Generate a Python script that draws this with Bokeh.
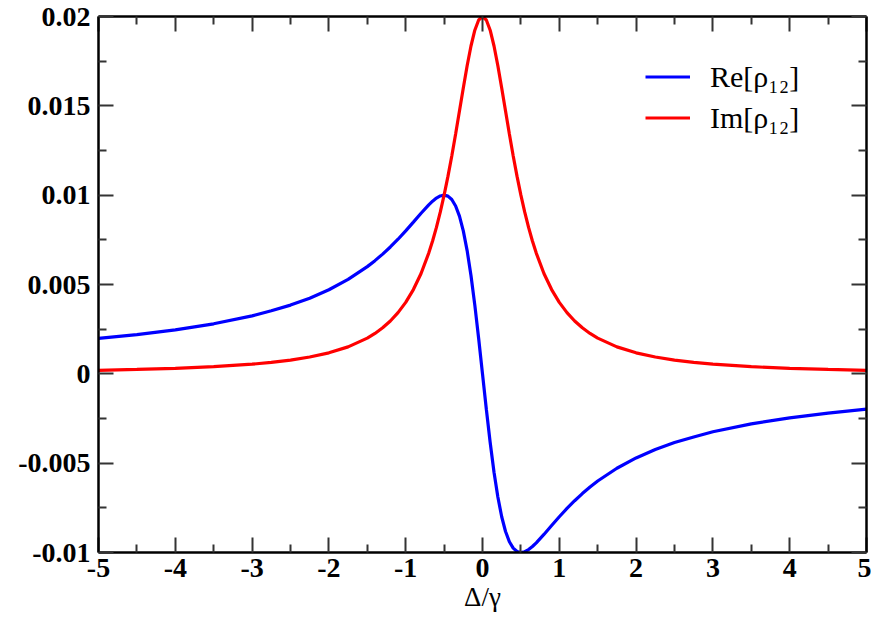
from bokeh.plotting import figure
from bokeh.models import (Range1d, FixedTicker, LinearAxis, Legend, LegendItem)
from bokeh.embed import file_html
from bokeh.resources import INLINE

# Detuning values (Δ/γ)
delta_pos = [0.0, 0.05, 0.1, 0.15, 0.2, 0.25, 0.3, 0.35, 0.4, 0.45, 0.5, 0.55, 0.6, 0.65,
             0.7, 0.8, 0.9, 1.0, 1.1, 1.2, 1.3, 1.4, 1.5, 1.75, 2.0, 2.25, 2.5, 2.75, 3.0,
             3.5, 4.0, 4.5, 5.0]
# Im[rho12] (symmetric in Δ)
im_pos = [0.02, 0.019802, 0.019231, 0.018349, 0.017241, 0.016, 0.014706, 0.013423,
          0.012195, 0.01105, 0.01, 0.00905, 0.008197, 0.007435, 0.006757, 0.005618,
          0.004717, 0.004, 0.003425, 0.002959, 0.002577, 0.002262, 0.002, 0.001509,
          0.001176, 0.000941, 0.000769, 0.000642, 0.000541, 0.0004, 0.000308, 0.000244,
          0.000198]
# Re[rho12] for positive Δ (antisymmetric in Δ)
re_pos = [0.0, -0.00198, -0.003846, -0.005505, -0.006897, -0.008, -0.008824, -0.009396,
          -0.009756, -0.009945, -0.01, -0.009955, -0.009836, -0.009665, -0.009459,
          -0.008989, -0.008491, -0.008, -0.007534, -0.007101, -0.006701, -0.006335,
          -0.006, -0.005283, -0.004706, -0.004235, -0.003846, -0.003531, -0.003243,
          -0.0028, -0.002462, -0.002195, -0.00198]

delta = [-d for d in delta_pos[:0:-1]] + delta_pos
im_vals = im_pos[:0:-1] + im_pos
re_vals = [-r for r in re_pos[:0:-1]] + re_pos

x_ticks = [-5, -4, -3, -2, -1, 0, 1, 2, 3, 4, 5]
x_minor = [-4.5, -3.5, -2.5, -1.5, -0.5, 0.5, 1.5, 2.5, 3.5, 4.5]
y_ticks = [-0.01, -0.005, 0.0, 0.005, 0.01, 0.015, 0.02]
y_labels = ["-0.01", "-0.005", "0", "0.005", "0.01", "0.015", "0.02"]
y_minor = [-0.0075, -0.0025, 0.0025, 0.0075, 0.0125, 0.0175]

SERIF = "'Liberation Serif', 'Times New Roman', Times, serif"

p = figure(width=871, height=621, output_backend="svg", toolbar_location=None,
           x_range=Range1d(-5, 5), y_range=Range1d(-0.01, 0.02),
           x_axis_location=None, y_axis_location=None,
           min_border_left=98, min_border_right=5, min_border_top=16, min_border_bottom=69)
p.grid.visible = False
p.outline_line_color = None
p.background_fill_color = "white"
p.border_fill_color = "white"

def style(ax, ticks, minor, labels=True):
    ax.ticker = FixedTicker(ticks=ticks, minor_ticks=minor)
    ax.axis_line_width = 2.5
    ax.axis_line_color = "black"
    ax.major_tick_in = 15
    ax.major_tick_out = 0
    ax.minor_tick_in = 8
    ax.minor_tick_out = 0
    ax.major_tick_line_width = 2
    ax.minor_tick_line_width = 2
    ax.major_tick_line_color = "#333333"
    ax.minor_tick_line_color = "#333333"
    ax.major_label_text_font = SERIF
    ax.major_label_text_font_style = "bold"
    ax.major_label_text_font_size = "28px"
    ax.major_label_text_color = "black"
    if not labels:
        ax.major_label_text_font_size = "0px"
        ax.major_label_text_alpha = 0

xb = LinearAxis()
style(xb, x_ticks, x_minor)
xb.major_label_overrides = {t: str(t) for t in x_ticks}
xb.major_label_standoff = 6
xb.axis_label = "Δ/γ"
xb.axis_label_text_font = SERIF
xb.axis_label_text_font_style = "normal"
xb.axis_label_text_font_size = "27px"
xb.axis_label_text_color = "black"
xb.axis_label_standoff = 2
p.add_layout(xb, "below")

yl = LinearAxis()
style(yl, y_ticks, y_minor)
yl.major_label_overrides = {t: l for t, l in zip(y_ticks, y_labels)}
yl.major_label_standoff = 8
p.add_layout(yl, "left")

xt = LinearAxis()
style(xt, x_ticks, x_minor, labels=False)
p.add_layout(xt, "above")

yr = LinearAxis()
style(yr, y_ticks, y_minor, labels=False)
p.add_layout(yr, "right")

r_re = p.line(delta, re_vals, line_color="#0000ff", line_width=3.2)
r_im = p.line(delta, im_vals, line_color="#ff0000", line_width=3.2)

legend = Legend(items=[LegendItem(label="Re[ρ₁₂]", renderers=[r_re]),
                       LegendItem(label="Im[ρ₁₂]", renderers=[r_im])],
                location=(547, 417))
legend.border_line_color = None
legend.background_fill_alpha = 0
legend.label_text_font = SERIF
legend.label_text_font_size = "30px"
legend.label_text_color = "black"
legend.glyph_width = 45
legend.label_standoff = 20
legend.spacing = 6
legend.label_height = 35
legend.glyph_height = 35
legend.padding = 5
p.add_layout(legend, "center")

open("out.html", "w").write(file_html(p, INLINE))
